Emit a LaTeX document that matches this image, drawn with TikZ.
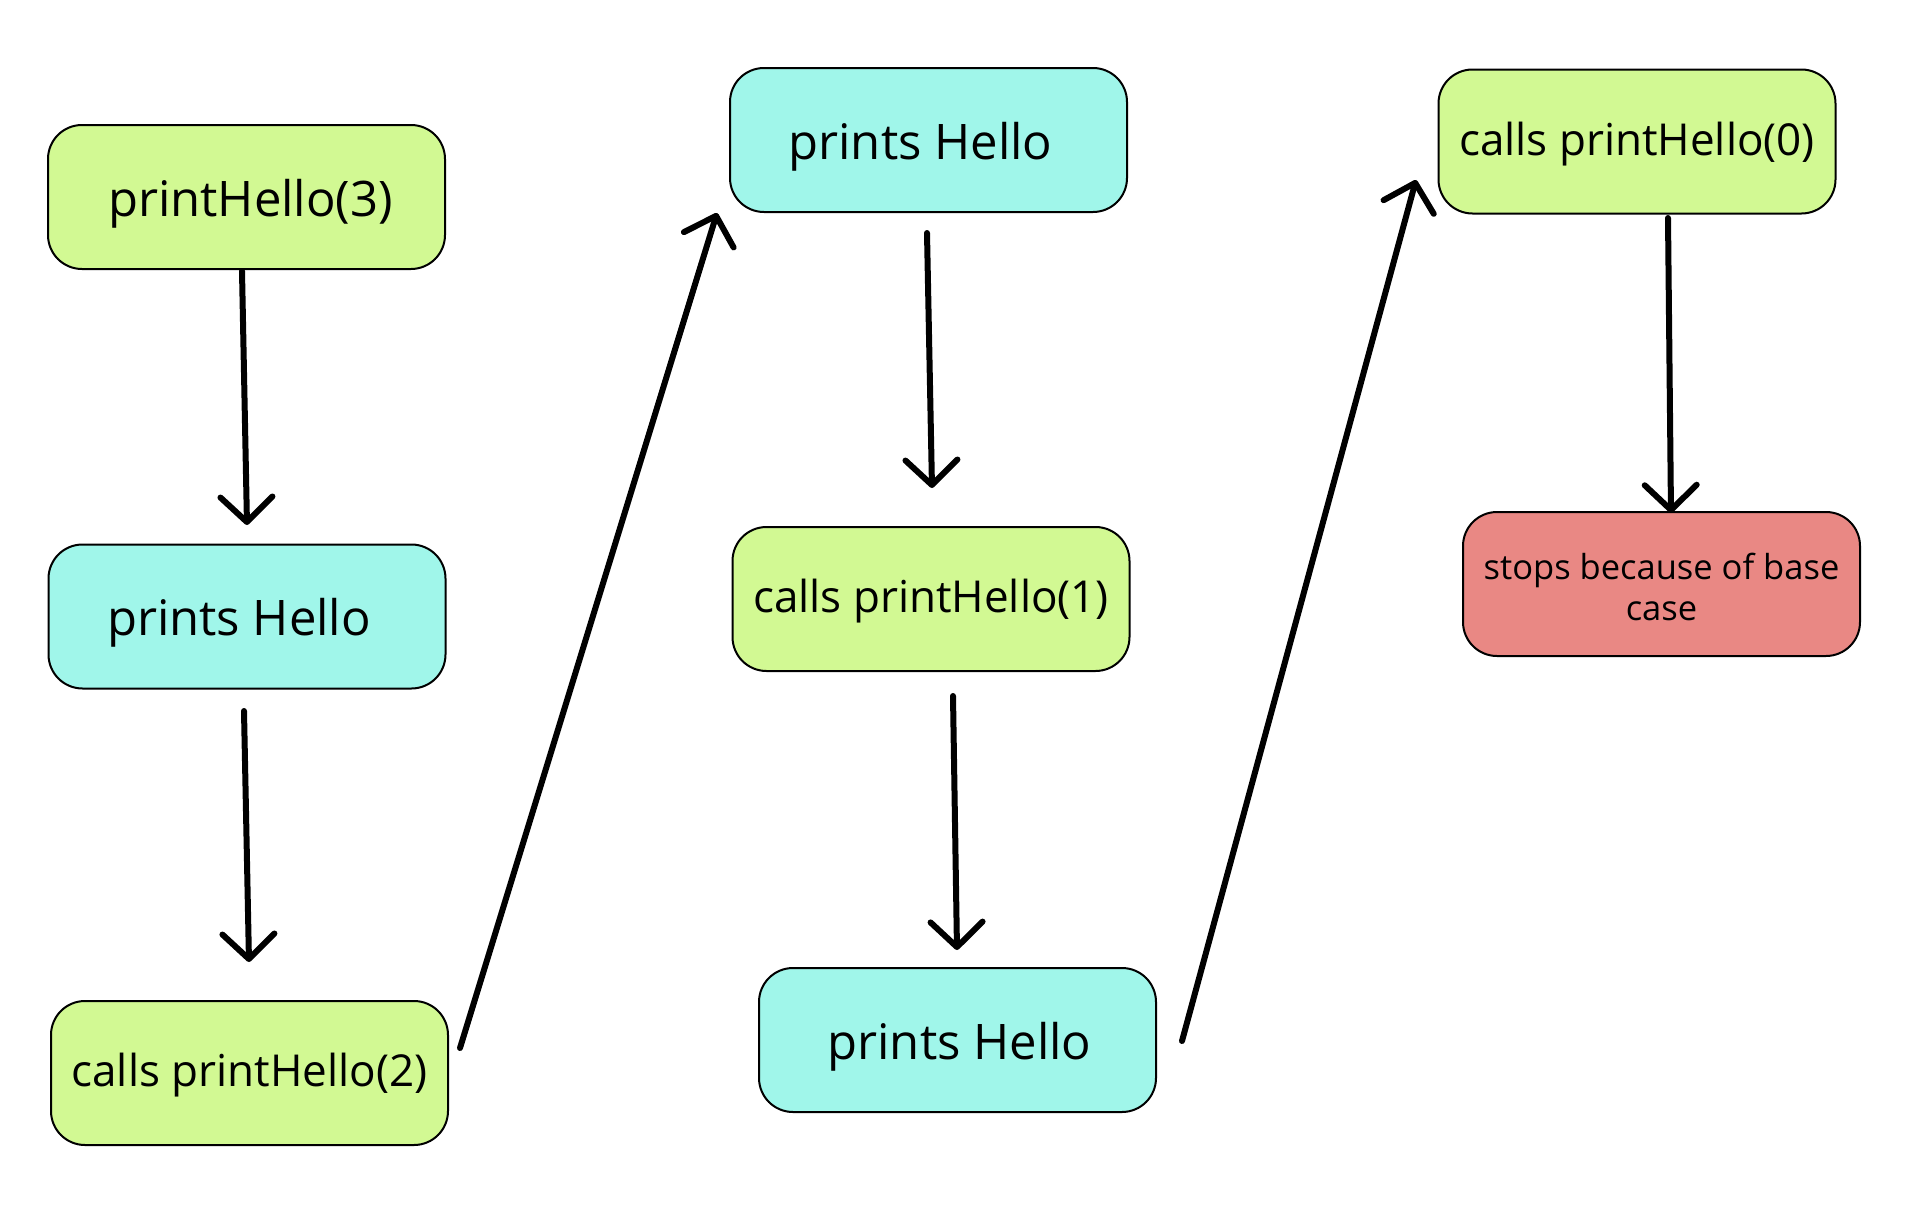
\documentclass[tikz,border=0pt]{standalone}
\usepackage{fontspec}
\setmainfont{Open Sans}
\usetikzlibrary{arrows.meta}
\definecolor{limefill}{HTML}{D2F993}
\definecolor{cyanfill}{HTML}{A0F6EA}
\definecolor{redfill}{HTML}{E98884}
\tikzset{
  box/.style={draw=black, line width=2pt, rectangle, rounded corners=34pt,
    minimum width=397pt, minimum height=144pt, inner sep=0pt, align=center},
  bigtxt/.style={font=\fontsize{49}{58}\selectfont, text height=38pt, text depth=0pt},
  calltxt/.style={font=\fontsize{44}{52}\selectfont, text height=27pt, text depth=0pt},
  stoptxt/.style={font=\fontsize{34.5}{41}\selectfont},
  lime/.style={box, fill=limefill},
  cyanb/.style={box, fill=cyanfill},
  redb/.style={box, fill=redfill},
  flow/.style={line width=6pt, line cap=round, line join=round,
    -{Straight Barb[length=25pt,width=52pt,round]}}
}
\begin{document}
\begin{tikzpicture}[x=1pt,y=-1pt]
\useasboundingbox (0,0) rectangle (1912,1226);
\fill[white] (0,0) rectangle (1912,1226);
% column 1
\node[lime, bigtxt]  (b1) at (246.5,197)  {\hspace*{8pt}printHello(3)};
\node[cyanb, bigtxt] (b2) at (247,616.5)  {\hspace*{-16pt}prints Hello};
\node[lime, calltxt] (b3) at (249.5,1073) {calls printHello(2)};
% column 2
\node[cyanb, bigtxt] (b4) at (928.5,140)  {\hspace*{-16pt}prints Hello};
\node[lime, calltxt] (b5) at (931,599)    {calls printHello(1)};
\node[cyanb, bigtxt] (b6) at (957.5,1040) {\hspace*{4pt}prints Hello};
% column 3
\node[lime, calltxt] (b7) at (1637,141.5) {calls printHello(0)};
\node[redb, stoptxt] (b8) at (1661.5,584) {\rule{0pt}{32pt}stops because of base\\case};
% connector ends
\coordinate (a1s) at (242,271);
\coordinate (a1e) at (247,525);
\coordinate (a2s) at (244,711);
\coordinate (a2e) at (249,962);
\coordinate (a3s) at (460,1048);
\coordinate (a3e) at (717,213);
\coordinate (a4s) at (927,233);
\coordinate (a4e) at (932,488);
\coordinate (a5s) at (953,696);
\coordinate (a5e) at (957,950);
\coordinate (a6s) at (1182,1041);
\coordinate (a6e) at (1416,180);
\coordinate (a7s) at (1668,218);
\coordinate (a7e) at (1671,513);
\draw[flow] (a1s) -- (a1e);
\draw[flow] (a2s) -- (a2e);
\draw[flow] (a3s) -- (a3e);
\draw[flow] (a4s) -- (a4e);
\draw[flow] (a5s) -- (a5e);
\draw[flow] (a6s) -- (a6e);
\draw[flow] (a7s) -- (a7e);
\end{tikzpicture}
\end{document}
